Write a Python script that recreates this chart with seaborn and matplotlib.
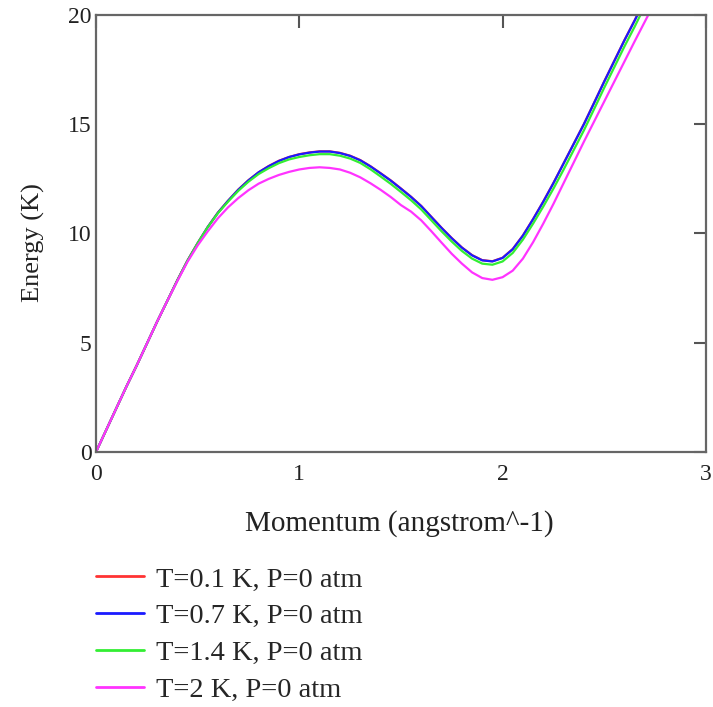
import pandas as pd
import seaborn as sns
import matplotlib.pyplot as plt

# momentum grid (angstrom^-1), every 0.05
momentum = [0.00, 0.05, 0.10, 0.15, 0.20, 0.25, 0.30, 0.35, 0.40, 0.45,
            0.50, 0.55, 0.60, 0.65, 0.70, 0.75, 0.80, 0.85, 0.90, 0.95,
            1.00, 1.05, 1.10, 1.15, 1.20, 1.25, 1.30, 1.35, 1.40, 1.45,
            1.50, 1.55, 1.60, 1.65, 1.70, 1.75, 1.80, 1.85, 1.90, 1.95,
            2.00, 2.05, 2.10, 2.15, 2.20, 2.25, 2.30, 2.35, 2.40, 2.45,
            2.50, 2.55, 2.60, 2.65, 2.70, 2.75]

# energy (K) for each temperature
e_t01 = [0.0, 1.0, 2.0, 3.0, 3.96, 4.95, 5.95, 6.9, 7.86, 8.76,
         9.56, 10.3, 10.96, 11.5, 12.01, 12.44, 12.8, 13.09, 13.33, 13.5,
         13.63, 13.71, 13.76, 13.76, 13.69, 13.56, 13.36, 13.08, 12.76, 12.43,
         12.06, 11.68, 11.26, 10.76, 10.26, 9.79, 9.36, 9.01, 8.78, 8.73,
         8.89, 9.29, 9.91, 10.66, 11.46, 12.31, 13.21, 14.11, 15.01, 15.98,
         16.96, 17.91, 18.86, 19.76, 20.71, 21.6]
e_t07 = [0.0, 1.0, 2.0, 3.0, 3.95, 4.95, 5.95, 6.9, 7.85, 8.75,
         9.55, 10.3, 10.95, 11.5, 12.0, 12.43, 12.8, 13.08, 13.32, 13.5,
         13.62, 13.7, 13.75, 13.75, 13.68, 13.55, 13.35, 13.07, 12.75, 12.42,
         12.05, 11.67, 11.25, 10.75, 10.25, 9.78, 9.35, 9.0, 8.77, 8.72,
         8.88, 9.28, 9.9, 10.65, 11.45, 12.3, 13.2, 14.1, 15.0, 15.97,
         16.95, 17.9, 18.85, 19.75, 20.7, 21.6]
e_t14 = [0.0, 1.0, 2.0, 3.0, 3.95, 4.95, 5.95, 6.9, 7.85, 8.75,
         9.55, 10.29, 10.93, 11.46, 11.95, 12.37, 12.72, 12.99, 13.22, 13.39,
         13.5, 13.58, 13.63, 13.63, 13.56, 13.43, 13.23, 12.94, 12.61, 12.27,
         11.9, 11.52, 11.1, 10.6, 10.1, 9.63, 9.2, 8.85, 8.62, 8.57,
         8.72, 9.11, 9.72, 10.45, 11.23, 12.05, 12.92, 13.82, 14.72, 15.69,
         16.67, 17.62, 18.57, 19.47, 20.42, 21.3]
e_t2 = [0.0, 1.0, 2.0, 3.0, 3.95, 4.95, 5.95, 6.9, 7.82, 8.7,
        9.45, 10.1, 10.7, 11.2, 11.62, 11.98, 12.28, 12.5, 12.68, 12.82,
        12.93, 13.0, 13.03, 13.0, 12.93, 12.78, 12.57, 12.3, 12.0, 11.67,
        11.3, 11.0, 10.6, 10.1, 9.58, 9.07, 8.62, 8.22, 7.96, 7.88,
        8.0, 8.3, 8.85, 9.6, 10.45, 11.35, 12.3, 13.25, 14.2, 15.12,
        16.04, 16.96, 17.88, 18.8, 19.7, 20.6]

labels = ["T=0.1 K, P=0 atm", "T=0.7 K, P=0 atm",
          "T=1.4 K, P=0 atm", "T=2 K, P=0 atm"]
colors = ["#ff3333", "#1a1aff", "#33ee33", "#ff33ff"]

frames = []
for lab, e in zip(labels, [e_t01, e_t07, e_t14, e_t2]):
    frames.append(pd.DataFrame({"p": momentum, "E": e, "series": lab}))
df = pd.concat(frames, ignore_index=True)

sns.set_theme(style="white")
plt.rcParams["font.family"] = ["Liberation Serif", "DejaVu Serif"]

fig = plt.figure(figsize=(7.13, 7.07), dpi=100)
ax = fig.add_axes([0.1346, 0.3607, 0.8554, 0.6181])

sns.lineplot(data=df, x="p", y="E", hue="series", hue_order=labels,
             palette=colors, linewidth=1.6, sort=False, ax=ax)

ax.set_xlim(0, 3)
ax.set_ylim(0, 20)
ax.set_xticks([0, 1, 2, 3])
ax.set_yticks([0, 5, 10, 15, 20])
for s in ax.spines.values():
    s.set_color("#666666")
    s.set_linewidth(1.6)
ax.tick_params(direction="in", top=True, right=True, length=9, width=1.5,
               color="#555555", labelcolor="#222222", labelsize=17)
ax.tick_params(axis="x", pad=9)
ax.tick_params(axis="y", pad=3)

ax.set_xlabel("Momentum (angstrom^-1)", fontsize=21, color="#222222")
ax.set_ylabel("Energy (K)", fontsize=19, color="#222222")
ax.xaxis.set_label_coords(0.497, -0.132)
ax.yaxis.set_label_coords(-0.083, 0.48)

sns.move_legend(ax, "upper left", bbox_to_anchor=(0.0, -0.262), frameon=False,
                title=None, fontsize=20.5, handlelength=1.7, handletextpad=0.42,
                labelspacing=0.38, borderpad=0, borderaxespad=0)
for line in ax.get_legend().get_lines():
    line.set_linewidth(2)

fig.savefig("out.png", dpi=100)
